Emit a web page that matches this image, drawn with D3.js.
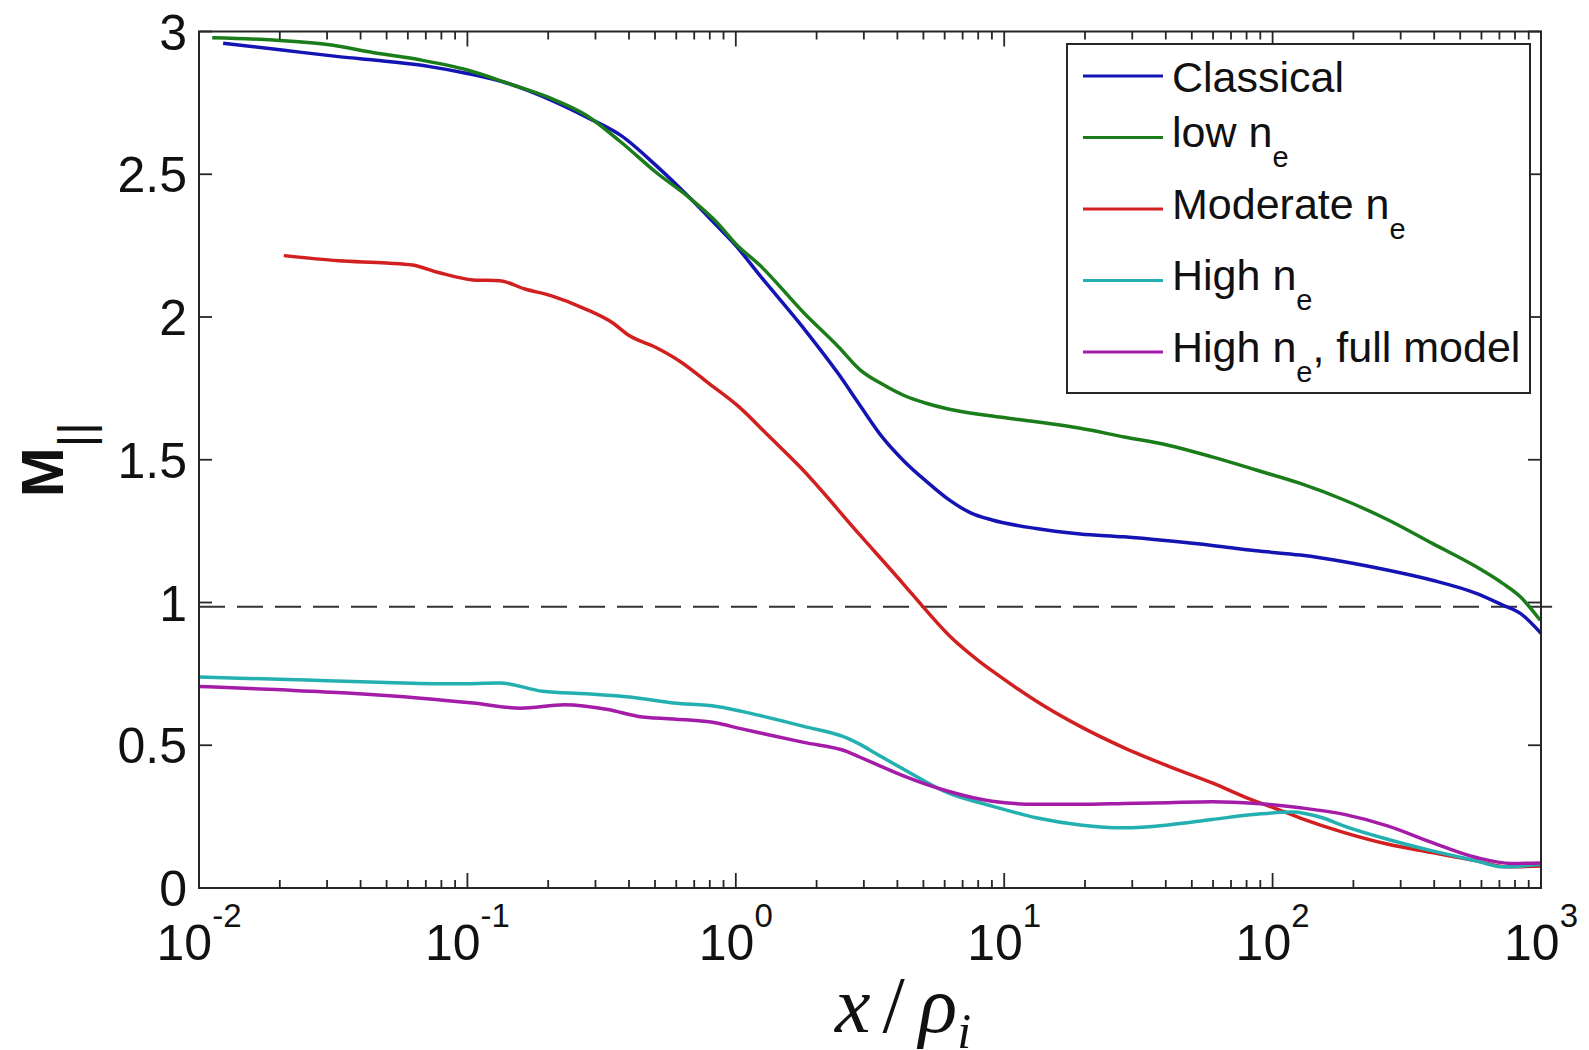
<!DOCTYPE html>
<html><head><meta charset="utf-8">
<script src="https://cdn.jsdelivr.net/npm/d3@7"></script>
<style>body{margin:0;background:#fff}svg{display:block}</style>
</head><body><svg id="c" width="1589" height="1050"></svg>
<script>
// ---------- data ----------
const seriesKeys = ["classical", "low", "moderate", "high", "highFull"];
const legendMain = ["Classical", "low n", "Moderate n", "High n", "High n"];
const legendSub = ["", "e", "e", "e", "e"];
const legendTail = ["", "", "", "", ", full model"];
const seriesColors = ["#1414b4", "#1a7d1a", "#d22020", "#24b0b0", "#a41ca8"];

const classicalData = [[0.0123,2.959],[0.0204,2.935],[0.0331,2.912],[0.0518,2.894],[0.0724,2.877],[0.1,2.853],[0.142,2.818],[0.206,2.759],[0.277,2.701],[0.373,2.636],[0.504,2.531],[0.679,2.414],[0.849,2.32],[1.0,2.25],[1.233,2.144],[1.791,1.96],[2.415,1.8],[2.904,1.69],[3.508,1.58],[4.236,1.495],[5.117,1.425],[6.18,1.362],[7.464,1.315],[9.016,1.289],[13.15,1.259],[19.19,1.24],[27.99,1.23],[40.83,1.216],[59.57,1.2],[86.9,1.181],[126.8,1.166],[184.9,1.143],[269.8,1.113],[393.6,1.078],[574.1,1.032],[719.5,0.991],[837.5,0.962],[1000,0.892]];

const lowData = [[0.0112,2.978],[0.0189,2.97],[0.0296,2.955],[0.0462,2.924],[0.0671,2.9],[0.1,2.865],[0.142,2.818],[0.206,2.765],[0.277,2.707],[0.373,2.613],[0.504,2.507],[0.679,2.414],[0.849,2.332],[1.0,2.256],[1.233,2.18],[1.791,2.015],[2.415,1.895],[2.904,1.815],[3.508,1.765],[4.236,1.725],[5.117,1.698],[6.18,1.678],[9.016,1.653],[13.15,1.633],[19.19,1.61],[27.99,1.58],[40.83,1.551],[59.57,1.51],[86.9,1.464],[126.8,1.417],[184.9,1.359],[269.8,1.289],[393.6,1.207],[574.1,1.125],[719.5,1.067],[837.5,1.02],[993,0.938]];

const moderateData = [[0.0207,2.215],[0.0331,2.197],[0.0499,2.189],[0.0624,2.182],[0.078,2.156],[0.105,2.13],[0.132,2.127],[0.164,2.098],[0.206,2.074],[0.277,2.027],[0.347,1.98],[0.402,1.934],[0.504,1.893],[0.63,1.84],[0.787,1.77],[1.023,1.687],[1.33,1.582],[1.726,1.477],[2.904,1.236],[4.236,1.062],[4.932,0.99],[6.18,0.888],[8.054,0.795],[9.354,0.75],[13.15,0.655],[19.19,0.566],[27.99,0.491],[40.83,0.427],[59.57,0.368],[80.54,0.315],[100.9,0.281],[126.8,0.245],[184.9,0.194],[269.8,0.153],[393.6,0.124],[574.1,0.095],[748.2,0.074],[1000,0.077]];

const highData = [[0.01,0.739],[0.0237,0.729],[0.0499,0.72],[0.0906,0.715],[0.132,0.718],[0.191,0.689],[0.277,0.68],[0.402,0.669],[0.585,0.648],[0.849,0.636],[1.233,0.604],[1.791,0.566],[2.6,0.525],[2.904,0.503],[3.311,0.472],[4.236,0.415],[6.18,0.333],[9.016,0.287],[13.15,0.246],[19.19,0.221],[27.99,0.211],[40.83,0.221],[59.57,0.24],[86.9,0.258],[117.5,0.266],[153.1,0.246],[184.9,0.217],[269.8,0.17],[393.6,0.13],[574.1,0.095],[719.5,0.074],[1000,0.083]];

const highFullData = [[0.01,0.706],[0.0204,0.694],[0.0356,0.683],[0.0671,0.665],[0.105,0.648],[0.158,0.63],[0.23,0.642],[0.334,0.625],[0.434,0.601],[0.585,0.592],[0.849,0.578],[1.023,0.56],[1.233,0.543],[1.791,0.51],[2.6,0.478],[2.904,0.458],[3.311,0.435],[4.236,0.392],[6.18,0.339],[9.016,0.304],[13.15,0.293],[19.19,0.293],[27.99,0.296],[40.83,0.299],[59.57,0.302],[86.9,0.296],[126.8,0.281],[184.9,0.258],[269.8,0.217],[393.6,0.159],[574.1,0.107],[776.2,0.086],[1000,0.088]];

const seriesData = [classicalData, lowData, moderateData, highData, highFullData];

const yTicks = [0, 0.5, 1, 1.5, 2, 2.5, 3];
const yTickLabels = ["0", "0.5", "1", "1.5", "2", "2.5", "3"];
const xTickExponents = [-2, -1, 0, 1, 2, 3];
const xTickLabelBase = "10";
const refLineValue = 0.985;
const refLineExtent = [0.01, 1100];
const yLabelMain = "M";
const yLabelSub = "||";

// ---------- layout ----------
const L = 199, R = 1541, T = 31.5, B = 888;
const svg = d3.select("#c");
const x = d3.scaleLog().domain([0.01, 1000]).range([L, R]);
const y = d3.scaleLinear().domain([0, 3]).range([B, T]);
const axisColor = "#262626";
const sans = "'Liberation Sans', Arial, Helvetica, sans-serif";
const serif = "'Liberation Serif', 'Times New Roman', serif";

// reference dashed line
svg.append("line")
  .attr("x1", x(refLineExtent[0])).attr("x2", x(refLineExtent[1]))
  .attr("y1", y(refLineValue)).attr("y2", y(refLineValue))
  .attr("stroke", "#333").attr("stroke-width", 2)
  .attr("stroke-dasharray", "26,12");

// series lines
const line = d3.line().x(d => x(d[0])).y(d => y(d[1])).curve(d3.curveMonotoneX);
seriesData.forEach((data, i) => {
  svg.append("path").datum(data)
    .attr("d", line)
    .attr("fill", "none")
    .attr("stroke", seriesColors[i])
    .attr("stroke-width", 3.5)
    .attr("stroke-linejoin", "round");
});

// axes box
svg.append("rect").attr("x", L).attr("y", T).attr("width", R - L).attr("height", B - T)
  .attr("fill", "none").attr("stroke", axisColor).attr("stroke-width", 2);

// x ticks (major + minor), bottom and top, inward
const gx = svg.append("g").attr("stroke", axisColor).attr("stroke-width", 1.8);
xTickExponents.forEach((e, k) => {
  const v = Math.pow(10, e);
  [[B, -15], [T, 15]].forEach(([y0, len]) => {
    gx.append("line").attr("x1", x(v)).attr("x2", x(v)).attr("y1", y0).attr("y2", y0 + len);
  });
  if (k < xTickExponents.length - 1) {
    for (let m = 2; m <= 9; m++) {
      const mv = m * v;
      [[B, -8], [T, 8]].forEach(([y0, len]) => {
        gx.append("line").attr("x1", x(mv)).attr("x2", x(mv)).attr("y1", y0).attr("y2", y0 + len);
      });
    }
  }
});

// y ticks left and right, inward
const gy = svg.append("g").attr("stroke", axisColor).attr("stroke-width", 1.8);
yTicks.forEach(v => {
  gy.append("line").attr("x1", L).attr("x2", L + 13).attr("y1", y(v)).attr("y2", y(v));
  gy.append("line").attr("x1", R).attr("x2", R - 13).attr("y1", y(v)).attr("y2", y(v));
});

// y tick labels
yTicks.forEach((v, i) => {
  svg.append("text")
    .attr("x", L - 12).attr("y", y(v)).attr("dy", "0.36em")
    .attr("text-anchor", "end")
    .attr("font-family", sans).attr("font-size", 50).attr("fill", "#111")
    .text(yTickLabels[i]);
});

// x tick labels 10^e
xTickExponents.forEach(e => {
  const t = svg.append("text")
    .attr("x", x(Math.pow(10, e))).attr("y", B + 72)
    .attr("text-anchor", "middle")
    .attr("font-family", sans).attr("fill", "#111");
  t.append("tspan").attr("font-size", 50).text(xTickLabelBase);
  t.append("tspan").attr("font-size", 33).attr("dy", -33).text(String(e));
});

// y label
const yl = svg.append("text")
  .attr("transform", `translate(63,${(T + B) / 2}) rotate(-90)`)
  .attr("text-anchor", "middle")
  .attr("font-family", sans).attr("fill", "#111");
yl.append("tspan").attr("font-size", 60).attr("font-weight", "bold").text(yLabelMain);
yl.append("tspan").attr("font-size", 48).attr("dy", 29).text(yLabelSub);

// x label:  x / ρ_i
const xl = svg.append("text")
  .attr("x", (L + R) / 2 - 35).attr("y", 1032)
  .attr("font-family", serif).attr("fill", "#111").attr("font-size", 80);
xl.append("tspan").attr("font-style", "italic").text("x");
xl.append("tspan").attr("dx", 12).text("/");
xl.append("tspan").attr("dx", 14).attr("font-style", "italic").text("ρ");
xl.append("tspan").attr("font-style", "italic").attr("font-size", 50).attr("dy", 16).text("i");

// legend
const legL = R - 474, legT = T + 12.5, legW = 463, legH = 349;
svg.append("rect").attr("x", legL).attr("y", legT).attr("width", legW).attr("height", legH)
  .attr("fill", "#fff").attr("stroke", axisColor).attr("stroke-width", 2);
seriesKeys.forEach((k, i) => {
  const ly = legT + 32 + (i > 0 ? 61.5 + (i - 1) * 71.5 : 0);
  svg.append("line")
    .attr("x1", legL + 16).attr("x2", legL + 96)
    .attr("y1", ly).attr("y2", ly)
    .attr("stroke", seriesColors[i]).attr("stroke-width", 3.2);
  const base = ly + (legendSub[i] ? 9.5 : 16);
  const t = svg.append("text")
    .attr("x", legL + 105).attr("y", base)
    .attr("font-family", sans).attr("font-size", 43).attr("fill", "#111");
  t.append("tspan").text(legendMain[i]);
  if (legendSub[i]) {
    t.append("tspan").attr("font-size", 29).attr("dy", 20).text(legendSub[i]);
    if (legendTail[i]) t.append("tspan").attr("dy", -20).text(legendTail[i]);
  }
});
</script>
</body></html>
